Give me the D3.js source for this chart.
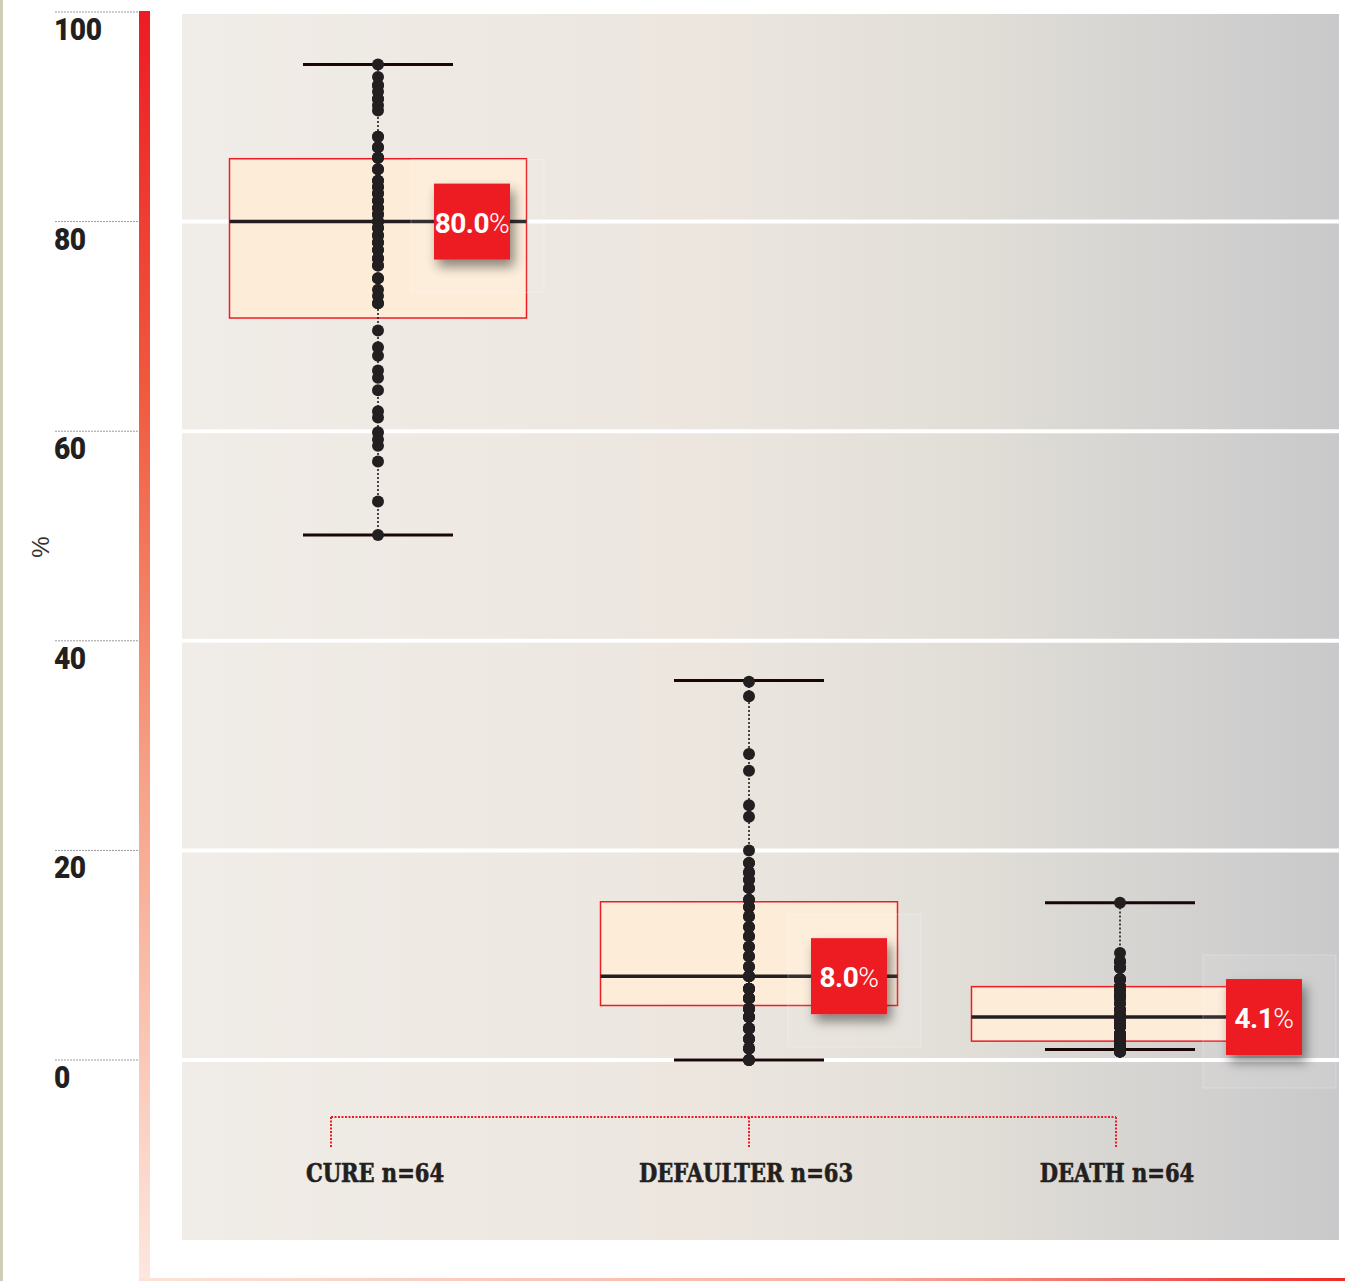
<!DOCTYPE html>
<html>
<head>
<meta charset="utf-8">
<script src="https://cdn.jsdelivr.net/npm/d3@7/dist/d3.min.js"></script>
<style>
  html, body { margin: 0; padding: 0; background: #ffffff; }
  svg { display: block; }
</style>
</head>
<body>
<script>
// Treatment outcomes by centre: share of patients (%) per outcome
const categories = ["CURE", "DEFAULTER", "DEATH"];
const sampleSizes = [64, 63, 64];
const medians = [80.0, 8.0, 4.1];
const lowerQuartiles = [70.8, 5.2, 1.8];
const upperQuartiles = [86.0, 15.1, 7.0];
const whiskerLows = [50.1, 0.0, 1.0];
const whiskerHighs = [95.0, 36.2, 15.0];
const tickValues = [0, 20, 40, 60, 80, 100];

const curePoints = [
  95.0, 93.8, 93.0, 93.0, 92.4, 91.7, 91.7, 91.1, 90.6, 88.1,
  88.1, 87.1, 87.1, 86.1, 86.1, 86.1, 85.0, 85.0, 83.9, 83.9,
  83.3, 83.3, 82.7, 82.7, 82.0, 82.0, 81.3, 81.3, 80.7, 80.7,
  80.0, 80.0, 79.4, 79.4, 78.7, 78.7, 78.0, 78.0, 77.3, 77.3,
  76.5, 76.5, 75.8, 75.8, 74.6, 74.6, 73.5, 72.9, 72.2, 72.2,
  69.6, 68.0, 67.2, 65.8, 65.1, 63.9, 61.9, 61.3, 59.9, 59.2,
  58.6, 57.1, 53.3, 50.1
];
const defaulterPoints = [
  36.1, 34.7, 29.2, 27.6, 24.3, 23.2, 20.0, 18.8, 18.8, 17.9,
  17.9, 17.2, 17.2, 16.4, 16.4, 15.3, 15.3, 14.6, 14.6, 13.7,
  13.7, 12.7, 12.7, 11.8, 11.8, 10.8, 10.8, 9.9, 9.9, 8.9,
  8.9, 8.0, 8.0, 8.0, 6.8, 6.8, 6.8, 6.8, 5.9, 5.9,
  5.9, 5.9, 4.9, 4.9, 4.9, 4.9, 4.1, 4.1, 4.1, 4.1,
  3.0, 3.0, 3.0, 3.0, 2.0, 2.0, 2.0, 1.1, 1.1, 1.1,
  0.0, 0.0, 0.0
];
const deathPoints = [
  15.0, 10.2, 9.4, 9.4, 9.4, 8.8, 8.8, 8.8, 7.7, 7.7,
  7.7, 7.7, 7.0, 7.0, 7.0, 7.0, 6.7, 6.7, 6.7, 6.2,
  6.2, 6.2, 5.9, 5.9, 5.4, 5.4, 4.8, 4.8, 4.8, 4.3,
  4.3, 4.1, 4.1, 3.7, 3.7, 3.7, 3.2, 3.2, 3.2, 3.2,
  2.5, 2.5, 2.5, 2.5, 2.0, 2.0, 2.0, 2.0, 1.6, 1.6,
  1.6, 1.6, 1.6, 1.2, 1.2, 1.2, 1.2, 1.2, 0.8, 0.8,
  0.8, 0.8, 0.8, 0.8
];
const pointSets = [curePoints, defaulterPoints, deathPoints];

// ---- layout ----
const W = 1357, H = 1281;
const panel = { x0: 182, x1: 1339, y0: 14, y1: 1240 };
const boxWidth = 297, capWidth = 150, dotR = 6, badge = 76;
const badgeShift = [56, 62, 106];   // horizontal offset of each median badge from the box centre

const svg = d3.select("body").append("svg")
  .attr("width", W).attr("height", H)
  .attr("viewBox", `0 0 ${W} ${H}`);

const y = d3.scaleLinear().domain([0, 100]).range([1060, 12]);
const x = d3.scalePoint().domain(categories).range([378, 1120]);

const defs = svg.append("defs");
const panelGrad = defs.append("linearGradient").attr("id", "panelGrad")
  .attr("x1", "0").attr("x2", "1").attr("y1", "0").attr("y2", "0");
[[0, "#f0ece7"], [0.45, "#ece6df"], [0.7, "#e0ddd7"], [1, "#c9c9cb"]]
  .forEach(([o, c]) => panelGrad.append("stop").attr("offset", o).attr("stop-color", c));

const barGrad = defs.append("linearGradient").attr("id", "barGrad")
  .attr("x1", "0").attr("x2", "0").attr("y1", "0").attr("y2", "1");
[[0, "#ed1c24"], [0.3, "#f05a3e"], [0.6, "#f6a186"], [1, "#fde7df"]]
  .forEach(([o, c]) => barGrad.append("stop").attr("offset", o).attr("stop-color", c));

const baseGrad = defs.append("linearGradient").attr("id", "baseGrad")
  .attr("x1", "0").attr("x2", "1").attr("y1", "0").attr("y2", "0");
[[0, "#fde2d8"], [0.6, "#f7b0a0"], [1, "#ed2a2a"]]
  .forEach(([o, c]) => baseGrad.append("stop").attr("offset", o).attr("stop-color", c));

const shadow = defs.append("filter").attr("id", "badgeShadow")
  .attr("x", "-40%").attr("y", "-40%").attr("width", "190%").attr("height", "190%");
shadow.append("feDropShadow").attr("dx", 4).attr("dy", 7)
  .attr("stdDeviation", 6).attr("flood-color", "#000").attr("flood-opacity", 0.45);

// thin rule on the far left
svg.append("rect").attr("x", 0).attr("y", 0).attr("width", 3).attr("height", H)
  .attr("fill", "#cfccb9");

// plot panel
svg.append("rect")
  .attr("x", panel.x0).attr("y", panel.y0)
  .attr("width", panel.x1 - panel.x0).attr("height", panel.y1 - panel.y0)
  .attr("fill", "url(#panelGrad)");

// white gridlines across the panel
svg.append("g").selectAll("line")
  .data(tickValues.filter(v => y(v) > panel.y0))
  .join("line")
  .attr("x1", panel.x0).attr("x2", panel.x1)
  .attr("y1", d => y(d)).attr("y2", d => y(d))
  .attr("stroke", "#ffffff").attr("stroke-width", 4);

// y axis: dotted ticks with labels under them
const axis = svg.append("g");
axis.selectAll("line").data(tickValues).join("line")
  .attr("x1", 55).attr("x2", 145)
  .attr("y1", d => y(d)).attr("y2", d => y(d))
  .attr("stroke", "#9a9a9a").attr("stroke-width", 1)
  .attr("stroke-dasharray", "2,1");
axis.selectAll("text").data(tickValues).join("text")
  .attr("transform", d => `translate(54,${y(d) + 28}) scale(0.88,1)`)
  .attr("font-family", "Roboto, sans-serif")
  .attr("font-weight", 900).attr("font-size", 32)
  .attr("letter-spacing", -0.5)
  .attr("fill", "#231f20")
  .text(d => d);

svg.append("text")
  .attr("transform", "translate(49,547) rotate(-90)")
  .attr("text-anchor", "middle")
  .attr("font-family", "'Liberation Sans', Arial, sans-serif")
  .attr("font-size", 24).attr("fill", "#333")
  .text("%");

// red gradient bars framing the chart
svg.append("rect").attr("x", 139).attr("y", 11).attr("width", 11).attr("height", H - 11)
  .attr("fill", "url(#barGrad)");
svg.append("rect").attr("x", 139).attr("y", H - 3).attr("width", 1206).attr("height", 3)
  .attr("fill", "url(#baseGrad)");

// ---- box plots ----
const stats = categories.map((c, i) => ({
  cat: c, i,
  q1: lowerQuartiles[i], med: medians[i], q3: upperQuartiles[i],
  lo: whiskerLows[i], hi: whiskerHighs[i], pts: pointSets[i]
}));

const g = svg.append("g");

g.selectAll("rect.box").data(stats).join("rect").attr("class", "box")
  .attr("x", d => x(d.cat) - boxWidth / 2).attr("width", boxWidth)
  .attr("y", d => y(d.q3)).attr("height", d => y(d.q1) - y(d.q3))
  .attr("fill", "#fdecd8").attr("stroke", "#ed1c24").attr("stroke-width", 1.5);

g.selectAll("line.median").data(stats).join("line").attr("class", "median")
  .attr("x1", d => x(d.cat) - boxWidth / 2).attr("x2", d => x(d.cat) + boxWidth / 2)
  .attr("y1", d => y(d.med)).attr("y2", d => y(d.med))
  .attr("stroke", "#231f20").attr("stroke-width", 3.5);

// faint halo square left behind the badge shadows
g.selectAll("rect.halo").data(stats).join("rect").attr("class", "halo")
  .attr("x", d => x(d.cat) + badgeShift[d.i] - 23)
  .attr("y", d => y(d.med) - badge / 2 - 24)
  .attr("width", 133).attr("height", 133)
  .attr("fill", "#ffffff").attr("fill-opacity", 0.08)
  .attr("stroke", "#ffffff").attr("stroke-opacity", 0.25);

g.selectAll("line.stem").data(stats).join("line").attr("class", "stem")
  .attr("x1", d => x(d.cat)).attr("x2", d => x(d.cat))
  .attr("y1", d => y(d.lo)).attr("y2", d => y(d.hi))
  .attr("stroke", "#231f20").attr("stroke-width", 1.6)
  .attr("stroke-dasharray", "2,2");

const caps = stats.flatMap(d => [{ cat: d.cat, v: d.lo }, { cat: d.cat, v: d.hi }]);
g.selectAll("line.cap").data(caps).join("line").attr("class", "cap")
  .attr("x1", d => x(d.cat) - capWidth / 2).attr("x2", d => x(d.cat) + capWidth / 2)
  .attr("y1", d => y(d.v)).attr("y2", d => y(d.v))
  .attr("stroke", "#1a0606").attr("stroke-width", 3);

const dots = stats.flatMap(d => d.pts.map(v => ({ cat: d.cat, v })));
g.selectAll("circle").data(dots).join("circle")
  .attr("cx", d => x(d.cat)).attr("cy", d => y(d.v)).attr("r", dotR)
  .attr("fill", "#231f20");

// median badges
const badges = g.selectAll("g.badge").data(stats).join("g").attr("class", "badge")
  .attr("transform", d => `translate(${x(d.cat) + badgeShift[d.i]},${y(d.med) - badge / 2})`);
badges.append("rect").attr("width", badge).attr("height", badge)
  .attr("fill", "#ed1c24").attr("filter", "url(#badgeShadow)");
const bt = badges.append("text")
  .attr("x", badge / 2).attr("y", badge / 2 + 11)
  .attr("text-anchor", "middle")
  .attr("font-family", "Roboto, sans-serif")
  .attr("letter-spacing", -0.5)
  .attr("fill", "#ffffff");
bt.append("tspan").attr("font-weight", "bold").attr("font-size", 28)
  .text(d => d3.format(".1f")(d.med));
bt.append("tspan").attr("font-weight", 300).attr("font-size", 28).text("%");

// category bracket
const bracketY = 1117, bracketDrop = 30;
const bracketXs = [x(categories[0]) - 47, x(categories[1]), x(categories[2]) - 4];
const br = svg.append("g").attr("stroke", "#ed1c24").attr("stroke-width", 2)
  .attr("stroke-dasharray", "2,1.5").attr("fill", "none");
br.append("line").attr("x1", bracketXs[0]).attr("x2", bracketXs[2])
  .attr("y1", bracketY).attr("y2", bracketY);
br.selectAll("line.drop").data(bracketXs).join("line").attr("class", "drop")
  .attr("x1", d => d).attr("x2", d => d)
  .attr("y1", bracketY).attr("y2", bracketY + bracketDrop);

// category labels
svg.append("g").selectAll("text").data(stats).join("text")
  .attr("transform", d => `translate(${x(d.cat) - 3},1182) scale(0.9,1)`)
  .attr("text-anchor", "middle")
  .attr("font-family", "'DejaVu Serif Condensed', 'DejaVu Serif', serif")
  .attr("font-weight", "bold").attr("font-size", 26)
  .attr("fill", "#231f20").attr("stroke", "#231f20").attr("stroke-width", 0.6)
  .text(d => `${d.cat} n=${sampleSizes[d.i]}`);
</script>
</body>
</html>
